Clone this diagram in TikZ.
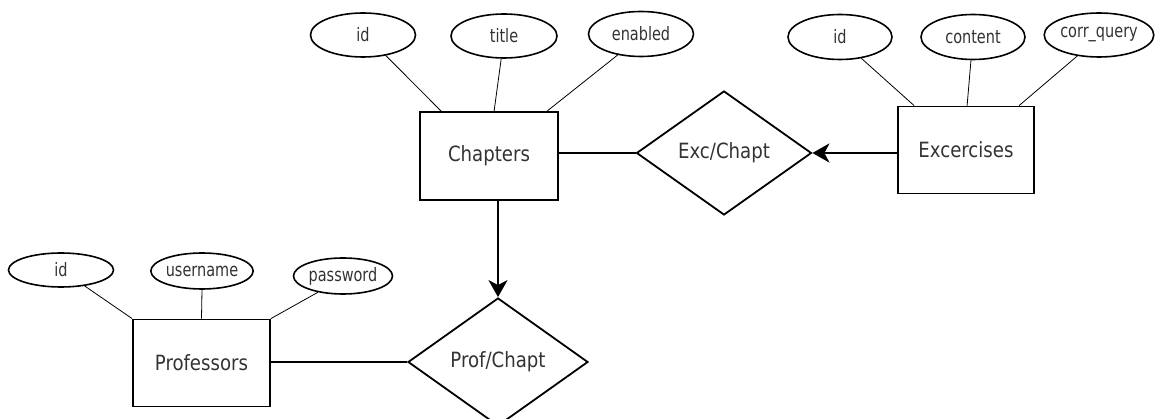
\documentclass[tikz,border=0pt]{standalone}
\usepackage{fontspec}
\setmainfont{DejaVu Sans Condensed}
\newfontfamily\namefont{DejaVu Sans Condensed}[FakeStretch=0.96]
\newfontfamily\attrfont{DejaVu Sans Condensed}[FakeStretch=0.87]
\usetikzlibrary{shapes.geometric,arrows.meta}
\definecolor{ink}{HTML}{333333}
\tikzset{
  entity/.style={draw, line width=1.8pt, minimum width=137pt, minimum height=87pt,
    inner sep=0pt, text=ink, font=\namefont\fontsize{21}{23}\selectfont},
  attr/.style={draw, ellipse, line width=1.6pt, inner sep=0pt, text=ink,
    font=\attrfont\fontsize{18.5}{20}\selectfont},
  rel/.style={draw, diamond, aspect=1, line width=1.8pt, inner sep=0pt, text=ink,
    font=\namefont\fontsize{21}{23}\selectfont},
  attrlink/.style={line width=0.8pt},
  rellink/.style={line width=2pt},
  onelink/.style={line width=2.6pt, -{Stealth[length=17pt,width=19pt,inset=5pt]}}
}
\begin{document}
\begin{tikzpicture}[x=1pt,y=-1pt]
\useasboundingbox (0,0) rectangle (1163,419);

% entities
\node[entity, minimum width=138pt, minimum height=88pt] (chap) at (489,156) {Chapters};
\node[entity, minimum width=136pt] (exer) at (966,150) {Excercises};
\node[entity] (prof) at (201.5,363) {Professors};

% relationships
\node[rel, minimum width=175pt, minimum height=124pt] (excrel) at (724,153) {Exc/Chapt};
\node[rel, minimum width=180pt, minimum height=128pt] (profrel) at (498,362) {Prof/Chapt};

% attributes of Chapters
\node[attr, minimum width=105pt, minimum height=44pt] (cid) at (363,35) {id};
\node[attr, minimum width=106pt, minimum height=44pt] (ctitle) at (504,36) {title};
\node[attr, minimum width=105pt, minimum height=45pt] (cen) at (641,34) {enabled};

% attributes of Excercises
\node[attr, minimum width=104pt, minimum height=45pt] (eid) at (840,37) {id};
\node[attr, minimum width=104pt, minimum height=45pt] (econt) at (973,37) {content};
\node[attr, minimum width=103pt, minimum height=44pt] (equery) at (1099,35) {corr\_query};

% attributes of Professors
\node[attr, minimum width=105pt, minimum height=34pt] (pid) at (61,270) {id};
\node[attr, minimum width=98pt, minimum height=36pt] (puser) at (202,271) {username};
\node[attr, minimum width=99pt, minimum height=36pt] (ppass) at (343,276) {password};

% attribute links
\draw[attrlink] (cid.-42) -- ([xshift=22pt]chap.north west);
\draw[attrlink] (ctitle.-97) -- ([xshift=75pt]chap.north west);
\draw[attrlink] (cen.-138) -- ([xshift=128pt]chap.north west);
\draw[attrlink] (eid.-45) -- ([xshift=17pt]exer.north west);
\draw[attrlink] (econt.-95) -- ([xshift=70pt]exer.north west);
\draw[attrlink] (equery.-136) -- ([xshift=122pt]exer.north west);
\draw[attrlink] (pid.-34) -- (prof.north west);
\draw[attrlink] (puser.south) -- (prof.north);
\draw[attrlink] (ppass.-147) -- (prof.north east);

% relationship links
\draw[rellink] (chap.east |- excrel.west) -- (excrel.west);
\draw[onelink] (exer.west |- excrel.east) -- (excrel.east);
\draw[rellink] (prof.east |- profrel.west) -- (profrel.west);
\draw[onelink] (chap.south -| profrel.north) -- (profrel.north);
\end{tikzpicture}
\end{document}
